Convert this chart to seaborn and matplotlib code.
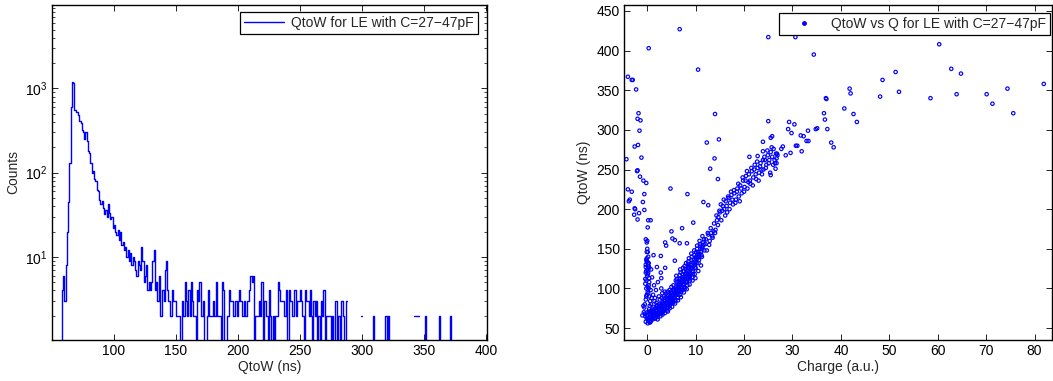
import numpy as np
import matplotlib
matplotlib.use("Agg")
import matplotlib.pyplot as plt
from matplotlib.lines import Line2D
from matplotlib.ticker import LogLocator, NullFormatter, LogFormatterMathtext, MultipleLocator
import seaborn as sns

N = np.nan  # empty bin (gap on the log axis)

# QtoW histogram, 1 ns bins, first bin starts at 57 ns
bin_start = 57
counts = [
    1,
    4, 6, 3, 8, 20, 45, 130, 600, 1200, 1150,          # 58-67
    560, 530, 520, 480, 410, 390, 320, 300, 250, 300,   # 68-77
    240, 180, 170, 130, 100, 105, 85, 80, 62, 60,       # 78-87
    48, 42, 46, 38, 32, 36, 30, 42, 33, 28,             # 88-97
    30, 22, 24, 20, 18, 21, 16, 20, 14, 15,             # 98-107
    12, 13, 10, 12, 9, 11, 8, 10, 9, 7,                 # 108-117
    6, 9, 8, 7, 13, 9, 5, 6, 8, 4,                      # 118-127
    5, 4, 5, 9, 12, 4, 5, 3, 6, 2,                      # 128-137
    2, 4, 3, 7, 9, 4, 3, 2, 2, 4,                       # 138-147
    3, 3, 2, 2, 2, 1, 1, 3, 2, 5,                       # 148-157
    3, 2, 4, 2, 5, 3, 2, 2, 1, 4,                       # 158-167
    3, 5, 2, 2, 3, 1, 1, 2, 4, 2,                       # 168-177
    2, 2, 3, 2, 5, 2, 2, 2, 1, 5,                       # 178-187
    4, 1, 1, 2, 2, 4, 3, 3, 2, 2,                       # 188-197
    3, 2, 3, 4, 3, 2, 2, 3, 2, 3,                       # 198-207
    3, 4, 6, 5, 6, 1, 2, 2, 2, 3,                       # 208-217
    2, 5, 1, 3, 3, 2, 1, 4, 2, 1,                       # 218-227
    2, 1, 2, 2, 5, 4, 3, 3, 3, 2,                       # 228-237
    2, 4, 1, 4, 3, 3, 2, 4, 4, 2,                       # 238-247
    3, 3, 4, 3, 2, 1, 4, 3, 3, 2,                       # 248-257
    4, 2, 1, 3, 2, 3, 1, 2, 1, 3,                       # 258-267
    2, 4, 1, 2, 2, 2, 2, 1, 2, 1,                       # 268-277
    3, 3, 1, 2, 1, 3, 3, 2, 1, 3,                       # 278-287
    N, N, N, N, N, N, N, N, N, N,                       # 288-297
    N, 2, N, N, N, N, N, N, N, N,                       # 298-307
    1, 2, 1, N, N, N, N, N, N, N,                       # 308-317
    1, 2, 1, 2, 1, N, N, N, N, N,                       # 318-327
    N, N, N, N, N, N, N, N, N, N,                       # 328-337
    N, N, N, N, 2, N, 2, 2, N, N,                       # 338-347
    N, N, 1, 2, 1, N, N, N, N, N,                       # 348-357
    N, N, N, 1, 2, 1, N, N, N, N,                       # 358-367
    N, N, 1, 2, 1, N,                                   # 368-373
]

# QtoW vs charge scatter, grouped by region of the plot
band_charge = [
    -0.3, -0.1, 0.0, 0.2, 0.3, 0.5, 0.6, 0.8, 0.9, 1.1,
    1.2, 1.4, 1.5, 1.7, 1.8, 2.0, 2.1, 2.3, 2.4, 2.6,
    2.7, 2.9, 3.0, 3.2, 3.3, 3.5, 3.6, 3.8, 3.9, 4.1,
    4.2, 4.4, 4.5, 4.7, 4.8, 5.0, 5.1, 5.3, 5.4, 5.6,
    5.7, 5.9, 6.0, 6.2, 6.3, 6.5, 6.6, 6.8, 6.9, 7.1,
    7.2, 7.4, 7.5, 7.7, 7.8, 8.0, 8.1, 8.3, 8.4, 8.6,
    8.7, 8.9, 9.0, 9.2, 9.3, 9.5, 9.6, 9.8, 9.9, 10.1,
    10.2, 10.4, 10.5, 10.7, 10.8, 11.0, 11.2, 11.4, 11.6, 11.8,
    -0.4, 0.1, 0.4, 0.7, 1.0, 1.3, 1.6, 1.9, 2.2, 2.5,
    2.8, 3.1, 3.4, 3.7, 4.0, 4.3, 4.6, 4.9, 5.2, 5.5,
    5.8, 6.1, 6.4, 6.7, 7.0, 7.3, 7.6, 7.9, 8.2, 8.5,
    8.8, 9.1, 9.4, 9.7, 10.0, 10.3, 10.6, 10.9, 11.3, 11.7,
    0.0, 0.5, 1.0, 1.5, 2.0, 2.5, 3.0, 3.5, 4.0, 4.5,
    5.0, 5.5, 6.0, 6.5, 7.0, 7.5, 8.0, 8.5, 9.0, 9.5,
    0.3, 0.8, 1.3, 1.8, 2.3, 2.8, 3.3, 3.8, 4.3, 4.8,
    5.3, 5.8, 6.3, 6.8, 7.3, 7.8, 8.3, 8.8, 9.3, 9.8,
    0.15, 0.45, 0.65, 0.95, 1.25, 1.45, 1.75, 2.05, 2.35, 2.65,
    2.95, 3.25, 3.55, 3.85, 4.15, 4.45, 4.75, 5.05, 5.35, 5.65,
    5.95, 6.25, 6.55, 6.85, 7.15, 7.45, 7.75, 8.05, 8.35, 8.65,
    8.95, 9.25, 9.55, 9.85, 10.15, 10.45, 10.75, 11.05, 11.35, 11.65,
    0.55, 1.15, 1.65, 2.15, 2.75, 3.15, 3.65, 4.25, 4.65, 5.15,
    5.75, 6.35, 6.95, 7.55, 8.15, 8.75, 9.35, 9.95, 10.55, 11.1,
    3.4, 4.2, 5.0, 5.9, 6.7, 7.6, 8.4, 9.2, 10.1, 10.9,
    1.9, 2.6, 3.0, 3.9, 4.6, 5.4, 6.1, 6.9, 7.7, 8.5,
    6.0, 6.8, 7.4, 8.0, 8.6, 9.1, 9.7, 10.3, 10.8, 11.4,
    12.0, 12.3, 12.6, 12.9, 13.2, 13.5, 13.8, 14.1, 14.4, 14.7,
    12.1, 12.5, 12.8, 13.1, 13.4, 13.7, 14.0, 14.3, 14.6, 14.9,
    15.0, 15.3, 15.6, 15.9, 16.2, 16.5, 16.8, 17.1, 17.4, 17.7,
    15.2, 15.5, 15.8, 16.1, 16.4, 16.7, 17.0, 17.3, 17.6, 17.9,
    18.0, 18.3, 18.6, 18.9, 19.2, 19.5, 19.8, 20.1, 20.4, 20.7,
    18.2, 18.5, 18.8, 19.1, 19.4, 19.7, 20.0, 20.3, 20.6, 20.9,
    21.0, 21.3, 21.6, 21.9, 22.2, 22.5, 22.8, 23.1, 23.4, 23.7,
    21.2, 21.5, 21.8, 22.1, 22.4, 22.7, 23.0, 23.3, 23.6, 23.9,
    24.0, 24.3, 24.6, 24.9, 25.2, 25.5, 25.8, 26.1, 26.4, 26.7,
    24.2, 24.5, 24.8, 25.1, 25.4, 25.7, 26.0, 26.3, 26.6, 26.9,
]
band_qtow = [
    58, 62, 66, 60, 70, 64, 68, 62, 72, 66,
    70, 64, 74, 68, 72, 66, 76, 70, 74, 68,
    78, 72, 76, 70, 80, 74, 84, 78, 82, 76,
    86, 80, 84, 90, 82, 88, 94, 86, 92, 98,
    90, 96, 102, 94, 100, 106, 98, 104, 110, 102,
    108, 114, 106, 112, 118, 110, 116, 122, 114, 120,
    126, 118, 124, 130, 122, 128, 136, 126, 134, 140,
    132, 138, 146, 136, 144, 150, 142, 152, 158, 148,
    65, 56, 74, 58, 62, 76, 62, 78, 64, 80,
    68, 82, 72, 88, 72, 92, 78, 96, 82, 100,
    86, 108, 92, 112, 96, 118, 102, 124, 108, 128,
    114, 136, 118, 142, 126, 150, 132, 154, 140, 162,
    70, 68, 68, 70, 72, 74, 74, 78, 80, 82,
    84, 88, 92, 96, 100, 104, 108, 112, 118, 122,
    60, 64, 66, 66, 68, 70, 72, 74, 76, 80,
    82, 84, 88, 92, 98, 100, 104, 110, 114, 118,
    63, 71, 59, 69, 73, 67, 69, 79, 71, 77,
    80, 78, 86, 82, 90, 88, 86, 92, 98, 94,
    99, 104, 101, 108, 112, 110, 115, 120, 126, 117,
    130, 126, 132, 130, 137, 141, 140, 146, 150, 155,
    57, 61, 63, 61, 65, 67, 69, 71, 75, 77,
    81, 85, 89, 95, 99, 105, 110, 113, 122, 129,
    90, 96, 102, 110, 117, 122, 131, 140, 146, 156,
    82, 86, 88, 94, 98, 104, 112, 120, 128, 134,
    116, 124, 126, 132, 138, 144, 148, 154, 160, 166,
    156, 148, 168, 160, 170, 164, 182, 174, 186, 190,
    162, 170, 155, 176, 166, 172, 170, 192, 180, 198,
    196, 186, 204, 200, 210, 196, 214, 208, 218, 206,
    206, 198, 212, 192, 204, 216, 200, 222, 212, 224,
    220, 212, 226, 216, 230, 220, 236, 228, 242, 226,
    208, 222, 232, 210, 226, 240, 222, 236, 248, 234,
    244, 232, 248, 240, 256, 238, 252, 246, 258, 244,
    236, 252, 230, 250, 244, 260, 236, 254, 250, 262,
    250, 262, 256, 268, 262, 272, 266, 276, 258, 264,
    266, 252, 274, 258, 246, 278, 256, 262, 270, 268,
]

column_charge = [
    -0.5, -0.3, -0.1, 0.1, 0.3, -0.4, -0.2, 0.0, 0.2, 0.4,
    -0.3, -0.1, 0.1, 0.3, -0.2, 0.0, 0.2, -0.4, 0.1, 0.3,
    -0.6, -0.1, 0.4, 0.6, -0.2, 0.2, 0.0, 0.5, -0.3, 0.7,
    -1.0, -0.7, 0.9, 1.2, -0.8, 0.0, 0.8, -0.5, 0.4, 1.5,
    1.8, 2.4, 3.1, 1.4, 2.2, 3.6, 1.0, 2.9, 1.6, 0.8,
    -0.2, 0.1, 0.3, -0.1, 0.2, 0.0, -0.3, 0.4, 0.1, -0.2,
]
column_qtow = [
    80, 86, 92, 96, 100, 106, 110, 116, 120, 126,
    130, 134, 132, 128, 136, 124, 140, 112, 146, 104,
    76, 146, 90, 84, 100, 94, 150, 78, 120, 98,
    66, 70, 88, 92, 78, 160, 80, 68, 108, 84,
    98, 90, 94, 104, 108, 96, 114, 100, 88, 124,
    122, 118, 132, 138, 128, 134, 127, 113, 102, 90,
]

left_charge = [
    -4.3, -4.0, -3.2, -3.0, -2.3, -1.8, -2.0, -1.4, -1.6, -1.9,
    -2.6, -1.2, -2.1, -2.0, -1.5, -0.8, -0.2, -4.0, -3.2, -3.6,
    -3.8, -0.6, -0.9, -2.6, -2.5, -2.7, -1.7, -2.0, -0.6, 0.2,
    0.7, 0.1, -0.3, -0.1,
]
left_qtow = [
    263, 367, 363, 363, 351, 321, 314, 312, 299, 281,
    279, 265, 248, 249, 241, 236, 233, 225, 222, 212,
    210, 219, 209, 201, 200, 193, 195, 187, 199, 186,
    186, 177, 162, 158,
]

outlier_charge = [
    6.7, 0.3, 10.5, 25.0, 30.6, 34.4, 60.3, 62.8, 64.8, 51.3,
    52.0, 48.6, 48.1, 58.5, 63.9, 70.1, 71.3, 74.4, 75.6, 81.9,
    41.8, 42.0, 42.6, 43.3, 40.7, 36.9, 37.0, 36.5, 36.7, 37.2,
    35.1, 34.8, 38.0, 38.5, 33.2, 32.9, 33.3, 31.7, 32.3, 30.7,
    31.0, 31.9, 30.4, 29.3, 29.1, 29.8, 29.6, 28.6, 27.7, 28.0,
    26.8, 26.7, 26.5, 25.0, 25.5, 25.8, 23.9, 23.9, 22.8, 21.1,
    25.5, 4.8, 8.3, 9.5, 7.2, 5.0, 5.2, 5.7, 6.7, 3.7,
    3.9, 2.8, 1.3, 2.0, 3.7, 5.7, 2.9, 2.8, 14.0, 12.3,
    14.8, 13.9, 13.0, 11.6, 12.6, 14.6, 8.2,
]
outlier_qtow = [
    427, 403, 376, 417, 417, 395, 408, 377, 371, 373,
    348, 363, 342, 340, 345, 345, 333, 352, 321, 358,
    352, 346, 320, 310, 327, 340, 339, 321, 313, 301,
    302, 301, 284, 278, 299, 286, 286, 293, 292, 280,
    280, 273, 307, 310, 301, 296, 271, 268, 276, 279,
    270, 258, 251, 311, 290, 292, 285, 273, 267, 266,
    243, 226, 219, 183, 176, 172, 163, 161, 157, 158,
    154, 141, 142, 127, 126, 135, 113, 120, 320, 284,
    288, 264, 251, 209, 205, 238, 157,
]

sns.set_style("white")
plt.rcParams["font.family"] = ["Liberation Sans", "DejaVu Sans"]
plt.rcParams["font.size"] = 10

fig = plt.figure(figsize=(10.53, 3.81), dpi=100)
ax1 = fig.add_axes([52 / 1053, 41 / 381, 435 / 1053, 335 / 381])
ax2 = fig.add_axes([624 / 1053, 41 / 381, 428 / 1053, 335 / 381])

blue = (0, 0, 1)

# left: histogram drawn as stairs (NaN bins leave gaps like the original)
edges = np.arange(bin_start, bin_start + len(counts))
ax1.step(edges, counts, where="post", color=blue, linewidth=1.0)
ax1.set_yscale("log")
ax1.set_xlim(50, 401)
ax1.set_ylim(1.03, 9800)
ax1.set_xticks([100, 150, 200, 250, 300, 350, 400])
ax1.set_yticks([10, 100, 1000])
ax1.yaxis.set_major_formatter(LogFormatterMathtext())
ax1.yaxis.set_minor_locator(LogLocator(base=10, subs=range(2, 10)))
ax1.yaxis.set_minor_formatter(NullFormatter())
ax1.set_xlabel("QtoW (ns)", labelpad=1)
ax1.set_ylabel("Counts", labelpad=4)
h1 = [Line2D([], [], color=blue, linewidth=1.0)]
leg1 = ax1.legend(h1, ["QtoW for LE with C=27\u221247pF"], loc="upper right",
                  bbox_to_anchor=(0.979, 0.979), borderaxespad=0, fancybox=False,
                  handlelength=2.9, borderpad=0.3, handletextpad=0.5, framealpha=1)

# right: scatter
charge = band_charge + column_charge + left_charge + outlier_charge
qtow = band_qtow + column_qtow + left_qtow + outlier_qtow
sns.scatterplot(x=charge, y=qtow, ax=ax2, marker="o", s=6, facecolor="none",
                edgecolor=blue, linewidth=0.85)
ax2.set_xlim(-4.8, 83.6)
ax2.set_ylim(35, 457.5)
ax2.xaxis.set_major_locator(MultipleLocator(10))
ax2.yaxis.set_major_locator(MultipleLocator(50))
ax2.set_xlabel("Charge (a.u.)", labelpad=1)
ax2.set_ylabel("QtoW (ns)", labelpad=4)
h2 = [Line2D([], [], color=blue, linestyle="none", marker=".", markersize=5)]
leg2 = ax2.legend(h2, ["QtoW vs Q for LE with C=27\u221247pF"], loc="upper right",
                  bbox_to_anchor=(0.995, 0.976), borderaxespad=0, fancybox=False,
                  handlelength=2.9, borderpad=0.3, handletextpad=0.5, framealpha=1)

for ax, leg in ((ax1, leg1), (ax2, leg2)):
    leg.get_frame().set_edgecolor("black")
    leg.get_frame().set_linewidth(0.9)
    for sp in ax.spines.values():
        sp.set_visible(True)
        sp.set_color("black")
        sp.set_linewidth(1.0)
    ax.tick_params(which="both", direction="in", top=True, right=True,
                   bottom=True, left=True, labelsize=10, colors="black", pad=3)
    ax.tick_params(which="major", length=4, width=0.6)
    ax.tick_params(which="minor", length=2, width=0.5)

fig.savefig("out.png", dpi=100)
